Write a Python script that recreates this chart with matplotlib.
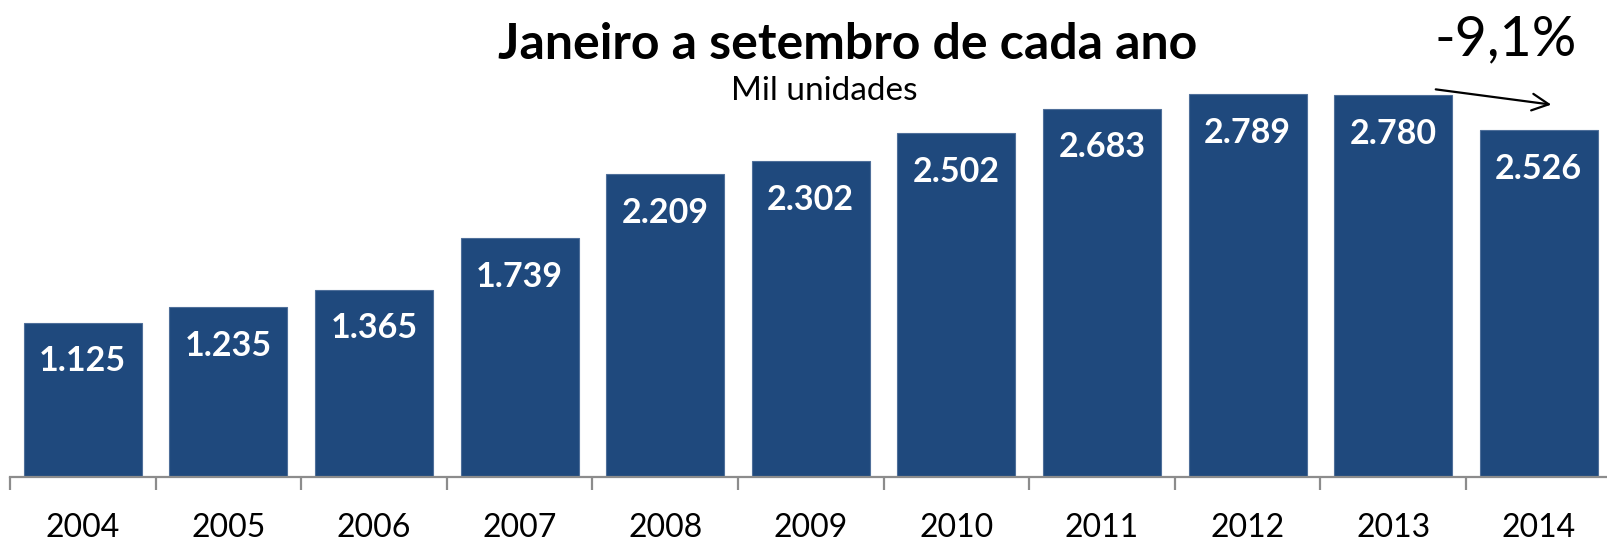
import matplotlib.pyplot as plt
import numpy as np

# Dados: janeiro a setembro de cada ano, mil unidades
anos = ['2004', '2005', '2006', '2007', '2008', '2009', '2010',
        '2011', '2012', '2013', '2014']
valores = [1125, 1235, 1365, 1739, 2209, 2302, 2502, 2683, 2789, 2780, 2526]
rotulos = ['1.125', '1.235', '1.365', '1.739', '2.209', '2.302', '2.502',
           '2.683', '2.789', '2.780', '2.526']

plt.rcParams['font.family'] = ['Lato', 'DejaVu Sans']

W, H = 1608, 541
fig = plt.figure(figsize=(W / 100, H / 100), dpi=100)
ax = fig.add_axes([10 / W, 64 / H, 1601.6 / W, 477 / H])

x = np.arange(len(anos))
ax.bar(x, valores, width=0.81, color='#1F497D', edgecolor='#4F6F9A', linewidth=0.8)

ax.set_xlim(-0.5, len(anos) - 0.5)
ax.set_ylim(0, 3474)

# Rótulos de valor dentro das barras
for xi, v, r in zip(x, valores, rotulos):
    ax.annotate(r, (xi, v), xytext=(0, -28), textcoords='offset points',
                ha='center', va='center', color='white', fontsize=24.5,
                fontweight='bold')

# Eixo x com marcas entre as categorias
for s in ['left', 'right', 'top']:
    ax.spines[s].set_visible(False)
ax.spines['bottom'].set_color('#8c8c8c')
ax.spines['bottom'].set_linewidth(1.6)
ax.set_yticks([])
ax.set_xticks(np.arange(-0.5, len(anos), 1.0))
ax.set_xticklabels([])
ax.set_xticks(x, minor=True)
ax.set_xticklabels(anos, minor=True, fontsize=23)
ax.tick_params(axis='x', which='major', length=9, width=1.6, color='#8c8c8c', direction='out')
ax.tick_params(axis='x', which='minor', length=0, pad=26)

# Títulos
fig.text(848 / W, 1 - 45 / H, 'Janeiro a setembro de cada ano', ha='center', va='center',
         fontsize=36, fontweight='bold')
fig.text(824 / W, 1 - 91 / H, 'Mil unidades', ha='center', va='center', fontsize=24)

# Variação
fig.text(1506 / W, 1 - 55 / H, '-9,1%', ha='center', va='baseline', fontsize=40)
fig.patches.append(plt.matplotlib.patches.FancyArrowPatch(
    (1433 / W, 1 - 89 / H), (1554 / W, 1 - 105 / H), transform=fig.transFigure,
    arrowstyle='->,head_length=12,head_width=6', mutation_scale=1, color='black', lw=1.6))

fig.savefig('out.png', dpi=100)
